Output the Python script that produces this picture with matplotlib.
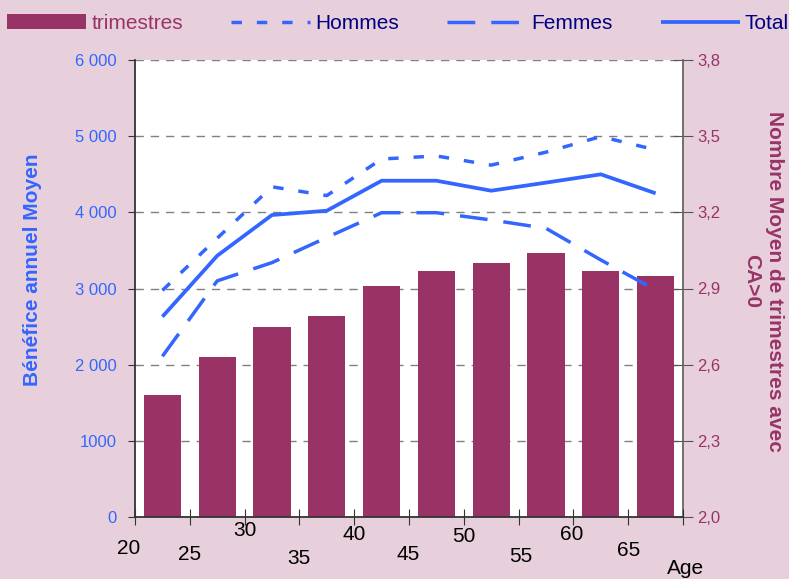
import matplotlib.pyplot as plt
import matplotlib.patches as mpatches
import numpy as np

plt.rcParams['font.family'] = ['Liberation Sans', 'DejaVu Sans']

# age groups (start of each 5-year band)
ages = [20, 25, 30, 35, 40, 45, 50, 55, 60, 65]
x_labels = ['20', '25', '30', '35', '40', '45', '50', '55', '60', '65', 'Age']

# mean number of quarters with turnover > 0 (right axis)
trimestres = [2.48, 2.63, 2.75, 2.79, 2.91, 2.97, 3.00, 3.04, 2.97, 2.95]

# mean annual profit (left axis)
hommes = [2975, 3660, 4335, 4220, 4700, 4740, 4620, 4790, 4995, 4820]
femmes = [2110, 3100, 3340, 3670, 3995, 3995, 3900, 3790, 3375, 2980]
total = [2630, 3430, 3965, 4021, 4415, 4415, 4284, 4390, 4499, 4250]

left_ticks = [0, 1000, 2000, 3000, 4000, 5000, 6000]
left_tick_labels = ['0', '1000', '2 000', '3 000', '4 000', '5 000', '6 000']
right_ticks = [2.0, 2.3, 2.6, 2.9, 3.2, 3.5, 3.8]
right_tick_labels = ['2,0', '2,3', '2,6', '2,9', '3,2', '3,5', '3,8']

bg = '#E7D0DC'
blue = '#3366FF'
wine = '#993366'
navy = '#000080'

centers = np.array(ages) + 2.5

fig = plt.figure(figsize=(7.89, 5.79), dpi=100, facecolor=bg)
ax = fig.add_axes([135 / 789, 1 - 517 / 579, 548 / 789, 457 / 579])
axb = ax.twinx()
ax.set_zorder(2)
axb.set_zorder(1)
ax.patch.set_visible(False)
axb.patch.set_visible(True)
axb.set_facecolor('white')

# bars on right axis
bars = axb.bar(centers, trimestres, width=3.4, color=wine, zorder=2)
axb.set_ylim(2.0, 3.8)
axb.set_yticks(right_ticks, right_tick_labels)
axb.grid(axis='y', color='#808080', linestyle=(0, (6, 5)), lw=1)
axb.set_axisbelow(True)

# lines on left axis
lh, = ax.plot(centers, hommes, color=blue, lw=2.5, linestyle=(0, (3, 4.3)))
lf, = ax.plot(centers, femmes, color=blue, lw=2.5, linestyle=(0, (8, 4.6)))
lt, = ax.plot(centers, total, color=blue, lw=2.7, solid_capstyle='butt')

ax.set_xlim(20, 70)
ax.set_ylim(0, 6000)
ax.set_yticks(left_ticks, left_tick_labels)
ax.set_xticks(list(range(20, 71, 5)))
ax.set_xticklabels([])

# spines
for s in ['top', 'right']:
    ax.spines[s].set_visible(False)
for s in ['top', 'left', 'bottom']:
    axb.spines[s].set_visible(False)
ax.spines['left'].set_color('#333333')
ax.spines['bottom'].set_color('#333333')
axb.spines['right'].set_color('#666666')
for sp in [ax.spines['left'], ax.spines['bottom'], axb.spines['right']]:
    sp.set_linewidth(1.3)

ax.tick_params(axis='x', direction='inout', length=12, color='#333333')
ax.tick_params(axis='y', direction='out', length=5, color='#333333',
               labelcolor=blue, labelsize=12, pad=8)
axb.tick_params(axis='y', direction='inout', length=14, color='#555555',
                labelcolor=wine, labelsize=12, pad=3)

# staggered x labels
dx = [-6, 0, 0, -1, 0, -1, 0, 2, -2, 0, 3]
dy = [31, 37, 14, 41, 17, 37, 19, 39, 17, 34, 52]
for i, lbl in enumerate(x_labels):
    ax.annotate(lbl, xy=(20 + 5 * i, 0), xycoords=('data', 'axes fraction'),
                xytext=(dx[i], -dy[i]), textcoords='offset pixels',
                ha='center', va='center', fontsize=15, color='black')

# axis titles
fig.text(33 / 789, 1 - 270 / 579, 'Bénéfice annuel Moyen', rotation=90,
         ha='center', va='center', fontsize=15, fontweight='bold', color=blue)
fig.text(763 / 789, 1 - 281 / 579, 'Nombre Moyen de trimestres avec\nCA>0',
         rotation=270, ha='center', va='center', fontsize=15,
         fontweight='bold', color=wine, linespacing=1.3, multialignment='center')

# legend
patch = mpatches.Rectangle((0, 0), 1, 1, facecolor=wine)
leg = fig.legend([patch, lh, lf, lt], ['trimestres', 'Hommes', 'Femmes', 'Total'],
                 loc='upper left', bbox_to_anchor=(7 / 789, 1 - 14 / 579),
                 ncol=4, frameon=False, fontsize=15, handlelength=3.8,
                 handletextpad=0.25, columnspacing=2.3, borderpad=0,
                 borderaxespad=0)
for txt, c in zip(leg.get_texts(), [wine, navy, navy, navy]):
    txt.set_color(c)

fig.savefig('out.png', dpi=100, facecolor=bg)
